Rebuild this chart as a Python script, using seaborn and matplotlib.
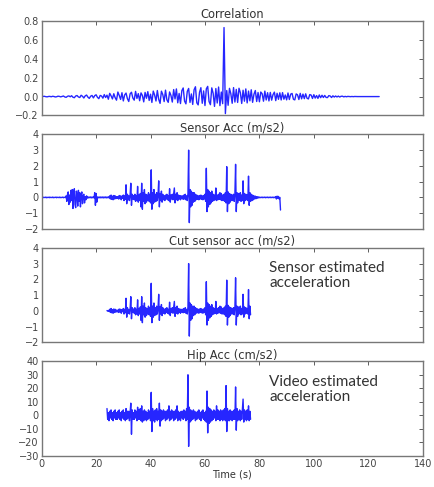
import numpy as np
import pandas as pd
import matplotlib
matplotlib.use("Agg")
import matplotlib.pyplot as plt
import seaborn as sns

# ---------------------------------------------------------------------------
# Signals (values sampled on a regular time grid, start time + step)
# ---------------------------------------------------------------------------

# Cross-correlation between the cut sensor signal and the hip acceleration
corr_t0, corr_dt = 0.0, 0.5
corr_values = [
    0.0, 0.002, 0.003, -0.001, -0.003, 0.001, 0.002, -0.002,
    0.003, 0.001, -0.004, -0.002, 0.004, 0.002, -0.003, 0.001,
    0.006, -0.004, -0.008, 0.003, 0.007, -0.002, 0.009, -0.007,
    -0.012, 0.006, 0.011, -0.004, -0.010, 0.014, 0.003, -0.015,
    0.008, 0.016, -0.006, -0.019, 0.004, 0.012, -0.014, 0.010,
    0.019, -0.008, -0.022, 0.012, 0.006, -0.017, 0.021, -0.010,
    0.015, -0.028, 0.034, 0.008, -0.025, 0.030, -0.012, -0.038,
    0.048, 0.012, -0.030, 0.041, -0.046, 0.018, 0.037, -0.022,
    -0.052, 0.029, 0.046, -0.015, -0.038, 0.055, -0.020, 0.031,
    -0.044, 0.039, 0.012, -0.056, 0.044, -0.018, 0.052, -0.041,
    0.025, -0.062, 0.058, 0.016, -0.047, 0.064, -0.029, -0.072,
    0.057, 0.021, -0.053, 0.068, -0.034, -0.061, 0.049, 0.012,
    -0.058, 0.074, -0.025, 0.081, -0.066, 0.033, -0.074, 0.062,
    0.091, -0.048, -0.077, 0.055, 0.086, -0.062, 0.028, -0.083,
    0.072, 0.104, -0.066, -0.088, 0.045, 0.094, -0.071, 0.060,
    -0.095, 0.082, 0.108, -0.052, -0.086, 0.092, 0.035, -0.104,
    0.085, -0.068, 0.101, -0.096, 0.048, -0.075, 0.730, -0.180,
    0.064, -0.092, 0.087, 0.030, -0.071, 0.095, -0.058, 0.076,
    -0.062, 0.088, 0.041, -0.073, 0.067, -0.049, 0.081, -0.067,
    0.058, -0.045, 0.072, -0.061, 0.025, 0.064, -0.052, 0.043,
    -0.055, 0.048, 0.030, -0.049, 0.058, -0.036, 0.041, -0.046,
    0.044, -0.038, 0.021, 0.047, -0.043, 0.035, -0.029, 0.040,
    -0.036, 0.042, -0.028, 0.017, -0.035, 0.038, -0.031, 0.026,
    0.033, -0.029, -0.035, 0.028, 0.019, -0.031, 0.034, -0.024,
    0.026, -0.022, 0.029, -0.018, -0.025, 0.021, 0.016, -0.020,
    0.020, -0.016, 0.011, -0.019, 0.017, -0.012, 0.014, -0.010,
    0.012, -0.009, -0.011, 0.010, 0.006, -0.010, 0.008, -0.005,
    0.006, -0.004, 0.005, -0.005, 0.003, 0.004, -0.003, 0.002,
    -0.002, 0.002, 0.001, -0.001, 0.001, -0.001, 0.001, 0.0,
    0.0, 0.0, 0.0, 0.0, 0.0, 0.0, 0.0, 0.0,
    0.0, 0.0, 0.0, 0.0, 0.0, 0.0, 0.0, 0.0,
    0.0,
]

# Raw sensor acceleration (m/s2), 0 s to 88 s
sensor_t0, sensor_dt = 0.0, 0.25
sensor_values = [
    # 0 - 9 s : at rest
    0.0, 0.02, -0.02, 0.01, 0.0, -0.01, 0.02, -0.02,
    0.01, -0.01, 0.0, 0.02, -0.02, 0.01, 0.0, -0.01,
    0.02, -0.02, 0.01, -0.01, 0.0, 0.02, -0.02, 0.01,
    0.0, -0.01, 0.02, -0.02, 0.01, -0.01, 0.0, 0.02,
    -0.02, 0.01, 0.0, -0.01,
    # 9 - 17 s : first burst
    0.10, -0.25, 0.20, 0.35, -0.45, 0.15, -0.30, 0.45,
    -0.20, 0.50, -0.70, 0.30, 0.55, -0.45, -0.65, 0.40,
    0.20, -0.55, 0.45, -0.25, 0.30, -0.60, 0.15, 0.35,
    -0.40, 0.10, 0.20, -0.35, 0.05, -0.15, 0.10, -0.05,
    # 17 - 19.5 s
    0.03, -0.03, 0.02, -0.02, 0.03, -0.03, 0.02, -0.02, 0.03, -0.03,
    # 19.5 - 20.5 s
    0.30, -0.50, 0.25, -0.30,
    # 20.5 - 25 s
    0.03, -0.03, 0.02, -0.02, 0.03, -0.03, 0.02, -0.02, 0.03,
    -0.03, 0.02, -0.02, 0.03, -0.03, 0.02, -0.02, 0.03, -0.03,
    # 25 - 28 s
    0.10, -0.10, 0.15, -0.12, 0.08, -0.15, 0.12, -0.10,
    0.10, -0.08, 0.05, -0.06,
    # 28 - 80 s : walking
    0.05, -0.10, 0.12, -0.08, 0.10, -0.15, 0.08, -0.05,
    0.15, -0.20, 0.10, -0.12, 0.80, -0.40, 0.20, -0.15,
    0.10, -0.20, 0.15, 0.90, -0.50, 0.20, -0.10, 0.12,
    -0.15, 0.20, -0.25, 0.10, -0.20, 0.70, -0.30, 0.15,
    -0.20, 0.25, -0.60, 0.90, -0.75, 0.30, -0.25, 0.50,
    -0.40, 0.20, -0.30, 0.15, -0.20, 0.30, -0.25, 0.20,
    -0.35, 1.75, -0.75, 0.30, -0.40, 0.50, -0.30, 0.20,
    -0.25, 0.30, -0.20, 0.15, 1.05, -0.60, 0.25, -0.20,
    0.40, -0.30, 0.20, -0.15, 0.10, -0.20, 0.15, -0.10,
    0.20, -0.15, 0.10, -0.20, 0.55, -0.30, 0.15, -0.10,
    0.20, -0.15, 0.25, 0.60, -0.35, 0.20, -0.15, 0.30,
    -0.20, 0.15, -0.10, 0.12, -0.15, 0.10, -0.08, 0.10,
    -0.12, 0.15, -0.10, 0.20, -0.15, 0.10, -0.20, 0.25,
    3.00, -1.60, 0.50, -0.60, 0.40, -0.50, 0.30, -0.30,
    0.30, -0.25, 0.20, -0.15, 0.15, -0.12, 0.10, -0.15,
    0.12, -0.10, 0.15, -0.12, 0.10, -0.15, 0.12, -0.10,
    0.20, -0.25, 1.85, -0.90, 0.50, -0.60, 0.40, -0.45,
    0.30, -0.35, 0.40, -0.25, 0.20, -0.20, 0.15, -0.15,
    0.60, -0.20, 0.15, -0.15, 0.20, -0.12, 0.30, -0.15,
    0.25, -0.20, 0.15, -0.20, 0.20, -0.25, 0.30, -0.35,
    1.95, -0.90, 0.35, -0.40, 0.25, -0.30, 0.20, -0.20,
    0.15, -0.20, 0.20, -0.25, 0.25, 2.10, -0.90, 0.30,
    -0.35, 0.25, -0.20, 0.20, 0.30, -0.25, 0.15, -0.20,
    1.05, -0.40, 0.25, -0.20, 0.20, -0.15, 0.15, -0.20,
    1.35, -0.50, 0.30, -0.25, 0.20, -0.20, 0.15, -0.15,
    0.10, -0.10, 0.08, -0.08, 0.05, -0.05, 0.04, -0.03,
    # 80 - 86 s
    0.02, -0.02, 0.01, -0.01, 0.02, -0.02, 0.01, -0.01,
    0.02, -0.02, 0.01, -0.01, 0.02, -0.02, 0.01, -0.01,
    0.02, -0.02, 0.01, -0.01, 0.02, -0.02, 0.01, -0.01,
    # 86 - 88 s
    0.05, -0.10, 0.08, -0.05, 0.06, -0.10, 0.00, -0.80,
]

# Time window kept for the cut sensor signal (s)
cut_start, cut_end = 24.0, 76.75

# Hip acceleration estimated from video (cm/s2), from 24 s
hip_t0, hip_dt = 24.0, 0.25
hip_values = [
    5, -3, 2, -4, 3, -2, 4, -3,
    2, -4, 3, -2, 4, -3, 2, -3,
    3, -2, 4, -3, 2, -4, 3, -2,
    4, -3, 2, -4, 5, -3, 3, -2,
    3, -4, 2, 9, -14, 4, -3, 2,
    -3, 4, -2, 3, -4, 6, -3, 4,
    -3, 5, -4, 7, -5, 3, -4, 4,
    -3, 3, -4, 2, -3, 4, -2, 3,
    -4, 17, -12, 5, -4, 3, -5, 4,
    -3, 5, -4, 3, -3, 9, -8, 4,
    -4, 3, -3, 4, -2, 3, -4, 3,
    -3, 4, -2, 7, -4, 3, -3, 4,
    -2, 3, -4, 3, -3, 4, -2, 7,
    -4, 3, -3, 2, -4, 3, -2, 3,
    -3, 4, -2, 3, -4, 5, -3, 30,
    -23, 6, -5, 4, -4, 3, -3, 4,
    -2, 3, -4, 2, -3, 3, -2, 4,
    -3, 2, -4, 3, -2, 4, -3, 2,
    -4, 3, -5, 18, -13, 6, -6, 5,
    -5, 4, -4, 3, -3, 4, -2, 3,
    -4, 7, -3, 4, -3, 3, -4, 4,
    -3, 3, -4, 4, -3, 5, -4, 22,
    -12, 5, -4, 3, -4, 4, -3, 3,
    -4, 3, -3, 4, -3, 21, -11, 5,
    -4, 3, -3, 4, -4, 3, -3, 4,
    12, -5, 4, -3, 3, -4, 4, -3,
    7, -4, 3, -3,
]

titles = ["Correlation", "Sensor Acc (m/s2)", "Cut sensor acc (m/s2)", "Hip Acc (cm/s2)"]
y_limits = [(-0.2, 0.8), (-2, 4), (-2, 4), (-30, 40)]
y_ticks = [
    [-0.2, 0.0, 0.2, 0.4, 0.6, 0.8],
    [-2, -1, 0, 1, 2, 3, 4],
    [-2, -1, 0, 1, 2, 3, 4],
    [-30, -20, -10, 0, 10, 20, 30, 40],
]
x_ticks = [0, 20, 40, 60, 80, 100, 120, 140]
notes = {2: "Sensor estimated\nacceleration", 3: "Video estimated\nacceleration"}


def frame(t0, dt, values):
    v = np.asarray(values, dtype=float)
    return pd.DataFrame({"t": t0 + dt * np.arange(len(v)), "v": v})


corr_df = frame(corr_t0, corr_dt, corr_values)
sensor_df = frame(sensor_t0, sensor_dt, sensor_values)
cut_df = sensor_df[(sensor_df["t"] >= cut_start) & (sensor_df["t"] <= cut_end)]
hip_df = frame(hip_t0, hip_dt, hip_values)
frames = [corr_df, sensor_df, cut_df, hip_df]

# ---------------------------------------------------------------------------
# Figure
# ---------------------------------------------------------------------------
sns.set_style("white")
plt.rcParams["font.family"] = ["DejaVu Sans"]

fig, axes = plt.subplots(4, 1, figsize=(4.34, 4.87), dpi=100, sharex=True)
fig.subplots_adjust(left=0.096, right=0.974, top=0.957, bottom=0.064, hspace=0.20)

for i, (ax, df) in enumerate(zip(axes, frames)):
    sns.lineplot(data=df, x="t", y="v", ax=ax, color="#0000ff", linewidth=1.0,
                 estimator=None, sort=False, alpha=0.85)
    ax.set_xlim(0, 140)
    ax.set_ylim(*y_limits[i])
    ax.set_yticks(y_ticks[i])
    if i == 0:
        ax.set_yticklabels([f"{v:.1f}".replace("-", "\u2212") for v in y_ticks[i]])
    ax.set_xticks(x_ticks)
    ax.set_title(titles[i], fontsize=8.3, color="#333333", pad=2)
    ax.set_xlabel("")
    ax.set_ylabel("")
    ax.tick_params(direction="in", top=True, right=True, length=3, width=0.6,
                   labelsize=7, colors="#444444", pad=2)
    for s in ax.spines.values():
        s.set_color("#777777")
        s.set_linewidth(1.0)
    if i in notes:
        ax.text(0.597, 0.86, notes[i], transform=ax.transAxes, ha="left", va="top",
                fontsize=11, family="Lato", color="#333333", linespacing=1.1)

axes[-1].set_xlabel("Time (s)", fontsize=7, color="#333333", labelpad=1)

fig.savefig("out.png", dpi=100)
